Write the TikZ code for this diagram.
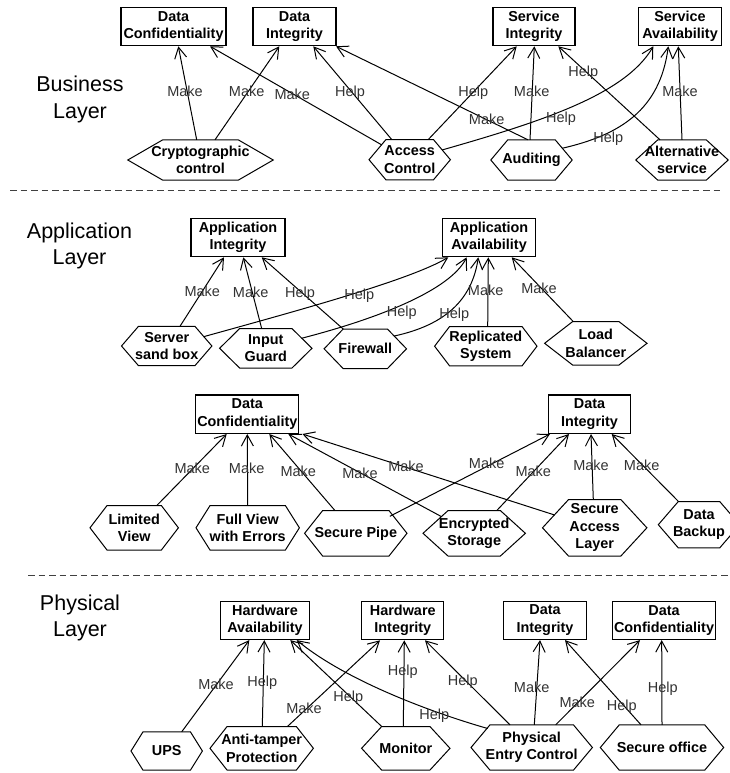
\documentclass[tikz,border=0pt]{standalone}
\usepackage{fontspec}
\setmainfont{Liberation Sans}
\usetikzlibrary{arrows.meta}

\tikzset{
  box/.style={draw, line width=1.1pt, inner sep=0pt, align=center,
    font=\bfseries\fontsize{14.4}{17.5}\selectfont, minimum height=38.5pt},
  hexa/.style={inner sep=0pt, align=center,
    font=\bfseries\fontsize{14.4}{17.5}\selectfont},
  hexline/.style={line width=1pt},
  conn/.style={line width=1pt, -{Straight Barb[length=11pt,width=12pt]}},
  lbl/.style={font=\fontsize{14.5}{17}\selectfont, text=black!80, inner sep=0pt,
    text height=10.5pt, text depth=3pt, yshift=-1.5pt},
  layer/.style={font=\fontsize{21.5}{26.5}\selectfont, align=center, inner sep=0pt},
  sepline/.style={line width=0.9pt, black!75, dash pattern=on 6.5pt off 4pt}
}

% hexagon: name, x, y, width, height, slant, text
\newcommand\hexnode[7]{%
  \node[hexa, minimum width=#4pt, minimum height=#5pt] (#1) at (#2,#3) {#7};
  \draw[hexline] (#1.west) -- ([xshift=#6pt]#1.north west) -- ([xshift=-#6pt]#1.north east)
    -- (#1.east) -- ([xshift=-#6pt]#1.south east) -- ([xshift=#6pt]#1.south west) -- cycle;}

\begin{document}
\begin{tikzpicture}[x=1pt, y=-1pt]
\fill[white] (0,0) rectangle (730,773);
\useasboundingbox (0,0) rectangle (730,773);

% layer titles and separators
\node[layer] (bl) at (80,99.4) {Business\\Layer};
\node[layer] (al) at (79.5,246) {Application\\Layer};
\node[layer] (pl) at (80,617.8) {Physical\\Layer};
\draw[sepline] (10,190) -- (722,190);
\draw[sepline] (28,575.7) -- (730,575.7);

% ---------------- business layer ----------------
\node[box, minimum width=105pt] (bdc) at (173.5,26.5) {Data\\Confidentiality};
\node[box, minimum width=83pt] (bdi) at (294.5,26.5) {Data\\Integrity};
\node[box, minimum width=82pt] (bsi) at (534,26.5) {Service\\Integrity};
\node[box, minimum width=83pt] (bsa) at (680,26.5) {Service\\Availability};

\hexnode{crypto}{200.5}{160}{145}{40}{35}{Cryptographic\\control}
\hexnode{access}{409.7}{159.7}{81}{40}{17}{Access\\Control}
\hexnode{audit}{531.5}{160}{81}{40}{17}{Auditing}
\hexnode{alt}{682}{160}{92}{40}{22}{Alternative\\service}

\draw[conn] ([xshift=-3.8pt]crypto.north) -- ([xshift=4.8pt]bdc.south) node[lbl] (l1) at (185,91) {Make};
\draw[conn] ([xshift=14.5pt]crypto.north) -- ([xshift=-15.2pt]bdi.south) node[lbl] (l2) at (246.7,91) {Make};
\draw[conn] ([shift={(-27.8,-14.7)}]access.center) -- ([xshift=36.5pt]bdc.south) node[lbl] (l3) at (292.3,94) {Make};
\draw[conn] ([xshift=-18pt]access.north) -- ([xshift=18.8pt]bdi.south) node[lbl] (l4) at (350,91) {Help};
\draw[conn] ([xshift=-3.5pt]audit.north) -- ([xshift=41.5pt]bdi.south) node[lbl] (l5) at (486.7,119.5) {Make};
\draw[conn] ([xshift=18.6pt]access.north) -- ([xshift=-17.3pt]bsi.south) node[lbl] (l6) at (473.3,91) {Help};
\draw[conn] ([xshift=-1.5pt]audit.north) -- ([xshift=0.3pt]bsi.south) node[lbl] (l7) at (531.7,91) {Make};
\draw[conn] ([xshift=-22pt]alt.north) -- ([xshift=24.3pt]bsi.south) node[lbl] (l8) at (583.3,71) {Help};
\draw[conn] ([shift={(32.3,-9.7)}]access.center) .. controls (540,122) and (625,95) .. ([xshift=-26.7pt]bsa.south) node[lbl] (l9) at (561,117.5) {Help};
\draw[conn] ([shift={(30.6,-11.7)}]audit.center) .. controls (620,135) and (660,110) .. ([xshift=-11.7pt]bsa.south) node[lbl] (l10) at (608.3,137) {Help};
\draw[conn] (alt.north) -- ([xshift=-1.7pt]bsa.south) node[lbl] (l11) at (680,91) {Make};

% ---------------- application layer ----------------
\node[box, minimum width=94pt] (ai) at (238,237.5) {Application\\Integrity};
\node[box, minimum width=93pt] (aa) at (489,237.5) {Application\\Availability};

\hexnode{ssb}{166.7}{346}{90}{39}{17}{Server\\sand box}
\hexnode{ig}{265.8}{348.3}{92}{39}{20}{Input\\Guard}
\hexnode{fw}{365.3}{348.8}{82}{39}{19}{Firewall}
\hexnode{rs}{485.8}{346.2}{102}{39}{15}{Replicated\\System}
\hexnode{lb}{595.8}{343.3}{102}{43}{28}{Load\\Balancer}

\draw[conn] ([xshift=13.3pt]ssb.north) -- ([xshift=-14pt]ai.south) node[lbl] (l12) at (202.3,291) {Make};
\draw[conn] ([xshift=-4.1pt]ig.north) -- ([xshift=5.3pt]ai.south) node[lbl] (l13) at (250.7,292.3) {Make};
\draw[conn] ([xshift=-22pt]fw.north) -- ([xshift=23.7pt]ai.south) node[lbl] (l14) at (300,292.3) {Help};
\draw[conn] ([shift={(36.9,-9.3)}]ssb.center) .. controls (300,310) and (410,280) .. ([xshift=-40.7pt]aa.south) node[lbl] (l15) at (359.3,294) {Help};
\draw[conn] ([shift={(35.7,-10)}]ig.center) .. controls (380,318) and (450,290) .. ([xshift=-22.3pt]aa.south) node[lbl] (l16) at (401.7,311) {Help};
\draw[conn] ([shift={(29,-12.8)}]fw.center) .. controls (445,325) and (472,300) .. ([xshift=-10.7pt]aa.south) node[lbl] (l17) at (454.3,313.3) {Help};
\draw[conn] ([xshift=1.9pt]rs.north) -- ([xshift=-0.7pt]aa.south) node[lbl] (l18) at (485.7,290) {Make};
\draw[conn] ([xshift=-22.5pt]lb.north) -- ([xshift=22.7pt]aa.south) node[lbl] (l19) at (539,288.3) {Make};

% ---------------- data ----------------
\node[box, minimum width=103pt] (dc2) at (247.3,414.2) {Data\\Confidentiality};
\node[box, minimum width=82pt] (di2) at (589.5,414.2) {Data\\Integrity};

\hexnode{lv}{134.2}{527.8}{88}{44}{17}{Limited\\View}
\hexnode{fv}{247.7}{527.8}{103}{44}{14}{Full View\\with Errors}
\hexnode{sp}{355.8}{533.3}{102}{45}{18}{Secure Pipe}
\hexnode{es}{474.2}{533.3}{102}{45}{25}{Encrypted\\Storage}
\hexnode{sal}{594.7}{527.8}{104}{56}{26}{Secure\\Access\\Layer}
\hexnode{db}{699}{524.7}{81}{46}{20}{Data\\Backup}

\draw[conn] ([xshift=22.5pt]lv.north) -- ([xshift=-20.6pt]dc2.south) node[lbl] (l20) at (192.3,468.3) {Make};
\draw[conn] (fv.north) -- (dc2.south) node[lbl] (l21) at (246.7,468.3) {Make};
\draw[conn] ([xshift=-20.8pt]sp.north) -- ([xshift=22pt]dc2.south) node[lbl] (l22) at (298.3,471) {Make};
\draw[conn] ([shift={(-32.6,-16.6)}]es.center) -- ([xshift=41pt]dc2.south) node[lbl] (l23) at (360,473.3) {Make};
\draw[conn] ([shift={(-40.1,-12.8)}]sal.center) -- ([xshift=3pt]dc2.south east) node[lbl] (l24) at (406,466) {Make};
\draw[conn] ([shift={(34,-17)}]sp.center) -- ([xshift=-39.5pt]di2.south) node[lbl] (l25) at (486.7,463.3) {Make};
\draw[conn] ([xshift=22.5pt]es.north) -- ([xshift=-20.5pt]di2.south) node[lbl] (l26) at (533.3,471) {Make};
\draw[conn] ([xshift=-1.4pt]sal.north) -- ([xshift=1.5pt]di2.south) node[lbl] (l27) at (591,465) {Make};
\draw[conn] ([xshift=-20.5pt]db.north) -- ([xshift=22.2pt]di2.south) node[lbl] (l28) at (641.7,465) {Make};

% ---------------- physical layer ----------------
\node[box, minimum width=89pt] (ha) at (265,620.3) {Hardware\\Availability};
\node[box, minimum width=82pt] (hi) at (402.8,620.5) {Hardware\\Integrity};
\node[box, minimum width=83pt] (di3) at (545,620.3) {Data\\Integrity};
\node[box, minimum width=103pt] (dc3) at (664,620.3) {Data\\Confidentiality};

\hexnode{ups}{166.7}{751}{71}{38}{12}{UPS}
\hexnode{atp}{261.7}{748.3}{103}{43}{17}{Anti-tamper\\Protection}
\hexnode{mo}{405.8}{748.3}{88}{43}{20}{Monitor}
\hexnode{pec}{531.7}{747.5}{121}{45}{19}{Physical\\Entry Control}
\hexnode{so}{662}{747.5}{123}{45}{19}{Secure office}

\draw[conn] ([xshift=15pt]ups.north) -- ([xshift=-15.7pt]ha.south) node[lbl] (l29) at (216,684) {Make};
\draw[conn] ([xshift=0.6pt]atp.north) -- ([xshift=-0.7pt]ha.south) node[lbl] (l30) at (262.3,681) {Help};
\draw[conn] ([xshift=25.6pt]atp.north) -- ([xshift=-22.8pt]hi.south) node[lbl] (l31) at (304,708.7) {Make};
\draw[conn] ([xshift=-24pt]mo.north) -- ([xshift=25.3pt]ha.south) node[lbl] (l32) at (348.3,696) {Help};
\draw[conn] ([shift={(-44,-19)}]pec.center) .. controls (430,712) and (345,680) .. ([xshift=31.7pt]ha.south) node[lbl] (l33) at (434.3,714.3) {Help};
\draw[conn] ([xshift=-2.5pt]mo.north) -- ([xshift=1.5pt]hi.south) node[lbl] (l34) at (402.7,670) {Help};
\draw[conn] ([xshift=-21.7pt]pec.north) -- ([xshift=22.2pt]hi.south) node[lbl] (l35) at (462.7,680) {Help};
\draw[conn] ([xshift=2.6pt]pec.north) -- ([xshift=-5pt]di3.south) node[lbl] (l36) at (531.7,687.3) {Make};
\draw[conn] ([xshift=24pt]pec.north) -- ([xshift=-24pt]dc3.south) node[lbl] (l37) at (577.3,702.7) {Make};
\draw[conn] ([xshift=-21pt]so.north) -- ([xshift=20pt]di3.south) node[lbl] (l38) at (621.7,705) {Help};
\draw[conn] (so.north) -- ([xshift=-2.3pt]dc3.south) node[lbl] (l39) at (662.7,687.3) {Help};
\end{tikzpicture}
\end{document}
